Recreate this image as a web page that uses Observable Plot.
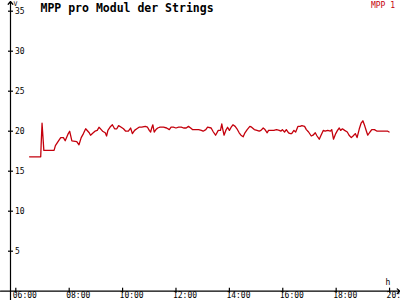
<!DOCTYPE html>
<html>
<head>
<meta charset="utf-8">
<script src="https://cdn.jsdelivr.net/npm/d3@7"></script>
<script src="https://cdn.jsdelivr.net/npm/@observablehq/plot@0.6"></script>
<style>
  html, body { margin: 0; padding: 0; background: #fff; overflow: hidden; }
</style>
</head>
<body>
<div id="chart"></div>
<script>
const title = "MPP pro Modul der Strings";
const seriesName = "MPP 1";
const yUnit = "V";
const xUnit = "h";
const lineColor = "#c4000c";

const yTicks = [5, 10, 15, 20, 25, 30, 35];
const xTickLabels = ["06:00", "08:00", "10:00", "12:00", "14:00", "16:00", "18:00", "20:00"];
const xDomain = ["05:48:05", "20:24:35"];
const yDomain = [0, 35];

const times = [
  "06:31","06:56","06:57","06:59","07:03","07:26","07:29","07:36","07:41","07:47",
  "07:51","07:57","08:01","08:06","08:17","08:22","08:27","08:32","08:37","08:45",
  "08:48","08:54","08:58","09:03","09:07","09:12","09:15","09:21","09:24","09:27",
  "09:33","09:37","09:42","09:47","09:51","09:57","10:02","10:07","10:13","10:18",
  "10:22","10:27","10:32","10:37","10:43","10:51","10:56","11:00","11:03","11:06",
  "11:08","11:11","11:15","11:19","11:24","11:32","11:39","11:45","11:49","11:54",
  "12:00","12:06","12:12","12:17","12:23","12:28","12:33","12:37","12:43","12:51",
  "12:57","13:01","13:07","13:11","13:19","13:24","13:29","13:35","13:40","13:43",
  "13:45","13:48","13:52","13:56","14:00","14:04","14:08","14:13","14:17","14:22",
  "14:26","14:31","14:35","14:40","14:46","14:50","14:56","15:02","15:07","15:11",
  "15:16","15:20","15:25","15:28","15:34","15:40","15:46","15:52","15:56","15:59",
  "16:04","16:08","16:13","16:17","16:20","16:25","16:29","16:34","16:39","16:43",
  "16:49","16:53","16:58","17:04","17:08","17:13","17:17","17:22","17:26","17:31",
  "17:35","17:41","17:47","17:50","17:54","17:59","18:03","18:07","18:10","18:14",
  "18:19","18:25","18:29","18:34","18:38","18:43","18:47","18:52","18:56","19:00",
  "19:04","19:08","19:11","19:16","19:20","19:26","19:32","19:56","19:59"
];
const values = [
  16.8,16.8,18.4,21.0,17.6,17.6,18.2,18.8,19.2,19.2,
  18.8,19.6,20.0,18.8,18.7,18.3,19.2,19.7,20.3,19.8,
  19.5,19.8,20.0,20.1,20.5,20.2,20.0,19.8,19.4,20.1,
  20.6,20.8,20.3,20.3,20.7,20.5,20.3,20.0,20.0,20.4,
  19.7,20.1,20.3,20.5,20.5,20.6,20.5,20.1,19.9,20.5,
  20.8,19.9,20.2,20.4,20.5,20.5,20.4,20.2,20.5,20.5,
  20.4,20.5,20.5,20.4,20.4,20.6,20.4,20.2,20.2,20.2,
  20.1,20.0,20.2,20.5,20.4,19.9,19.5,20.1,20.1,20.9,
  20.3,19.5,20.1,20.5,20.1,20.5,20.8,20.6,20.3,19.8,
  19.5,19.3,19.8,20.2,20.6,20.5,20.2,20.1,20.0,20.1,
  20.4,20.2,19.8,20.1,20.1,20.1,20.2,20.1,20.0,20.2,
  19.9,20.2,19.8,19.7,19.7,20.1,19.9,20.6,20.6,20.7,
  20.6,20.2,19.9,19.4,19.5,19.8,19.4,19.0,19.5,20.1,
  20.0,20.1,20.0,20.2,19.0,19.7,20.1,20.4,20.1,20.3,
  20.1,19.9,19.5,19.2,19.4,19.7,19.2,20.3,21.0,21.3,
  20.7,20.0,19.5,19.9,20.2,20.2,20.0,20.0,19.9
];

const parseHM = d3.utcParse("%H:%M");
const parseHMS = d3.utcParse("%H:%M:%S");
const data = times.map((t, i) => ({time: parseHM(t), value: values[i]}));
const xTicks = xTickLabels.map(parseHM);
const xd = xDomain.map(parseHMS);

const font = "'DejaVu Sans Mono', monospace";

const chart = Plot.plot({
  width: 400,
  height: 300,
  marginLeft: 10,
  marginRight: 0,
  marginTop: 10.7,
  marginBottom: 9.3,
  x: {type: "utc", domain: xd, axis: null},
  y: {domain: yDomain, axis: null},
  style: {fontFamily: font, background: "#fff", overflow: "hidden", color: "#000"},
  marks: [
    // y axis line with arrow
    Plot.arrow([0], {
      x1: () => xd[0], x2: () => xd[0], y1: () => yDomain[0], y2: () => yDomain[1],
      insetStart: -9.3, insetEnd: -9.7, stroke: "#000", strokeWidth: 1.2,
      headLength: 4.5, headAngle: 80
    }),
    // x axis line with arrow
    Plot.arrow([0], {
      x1: () => xd[0], x2: () => xd[1], y1: () => 0, y2: () => 0,
      insetStart: -10, insetEnd: 0.5, stroke: "#000", strokeWidth: 1.2,
      headLength: 4.5, headAngle: 80
    }),
    // y ticks
    Plot.ruleY(yTicks, {
      y: d => d, x1: () => xd[0], x2: () => xd[0],
      insetLeft: -2, insetRight: -3, stroke: "#000", strokeWidth: 1.2
    }),
    Plot.text(yTicks, {
      y: d => d, x: () => xd[0], text: d => String(d),
      textAnchor: "start", dx: 4.5, fontSize: 8, fill: "#000"
    }),
    // x ticks
    Plot.ruleX(xTicks, {
      x: d => d, y1: () => 0, y2: () => 0,
      insetTop: -3, insetBottom: -2, stroke: "#000", strokeWidth: 1.2
    }),
    Plot.text(xTicks, {
      x: d => d, y: () => 0, text: (d, i) => xTickLabels[i],
      textAnchor: "start", lineAnchor: "top", dx: -3, dy: 1.5, fontSize: 8, fill: "#000"
    }),
    // data line
    Plot.line(data, {x: "time", y: "value", stroke: lineColor, strokeWidth: 1.3}),
    // title
    Plot.text([title], {
      frameAnchor: "top-left", text: d => d, textAnchor: "start", lineAnchor: "bottom",
      dx: 30, dy: 0.6, fontSize: 11.5, fontWeight: "bold", fill: "#000"
    }),
    // legend
    Plot.text([seriesName], {
      frameAnchor: "top-right", text: d => d, textAnchor: "end", lineAnchor: "bottom",
      dx: -5.5, dy: -3.3, fontSize: 8, fill: lineColor
    }),
    // units
    Plot.text([yUnit], {
      frameAnchor: "top-left", text: d => d, textAnchor: "start", lineAnchor: "bottom",
      dx: 3, dy: -5, fontSize: 6.5, fill: "#000"
    }),
    Plot.text([xUnit], {
      frameAnchor: "bottom-right", text: d => d, textAnchor: "start", lineAnchor: "bottom",
      dx: -15, dy: -6.6, fontSize: 8, fill: "#000"
    })
  ]
});
document.getElementById("chart").appendChild(chart);
</script>
</body>
</html>
